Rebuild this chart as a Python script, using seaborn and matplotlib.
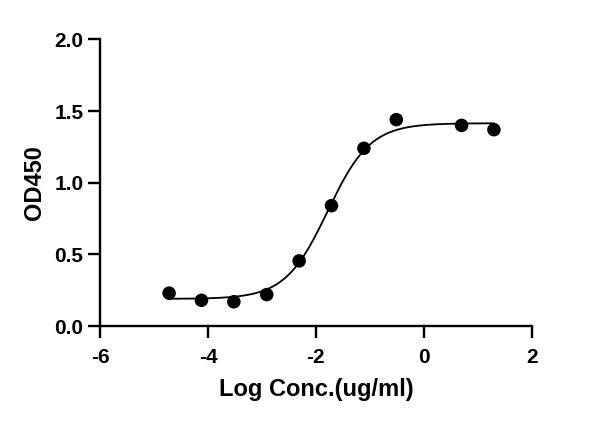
import numpy as np
import pandas as pd
import matplotlib
matplotlib.use("Agg")
import matplotlib.pyplot as plt
import seaborn as sns

# measured points
log_conc = [-4.72, -4.12, -3.52, -2.91, -2.31, -1.71, -1.11, -0.51, 0.70, 1.30]
od450 = [0.23, 0.18, 0.17, 0.22, 0.455, 0.84, 1.24, 1.44, 1.40, 1.37]

# 4PL fit parameters
bottom = 0.19
top = 1.415
log_ec50 = -1.78
hill = 1.1

sns.set_style("ticks")
plt.rcParams["font.family"] = ["Liberation Sans", "DejaVu Sans"]
plt.rcParams["font.weight"] = "bold"
plt.rcParams["axes.unicode_minus"] = False
for k in ["text.color", "axes.labelcolor", "xtick.color", "ytick.color", "axes.edgecolor"]:
    plt.rcParams[k] = "black"

df = pd.DataFrame({"x": log_conc, "y": od450})
xs = np.linspace(min(log_conc), max(log_conc), 300)
fit = pd.DataFrame({"x": xs, "y": bottom + (top - bottom) / (1 + 10 ** ((log_ec50 - xs) * hill))})

fig = plt.figure(figsize=(6, 4.23), dpi=100)
ax = fig.add_axes([0.1667, 0.229, 0.7195, 0.678])

sns.lineplot(data=fit, x="x", y="y", color="black", linewidth=1.3, ax=ax)
sns.scatterplot(data=df, x="x", y="y", color="black", s=95, edgecolor="none", ax=ax, zorder=3)

ax.set_xlim(-6, 2)
ax.set_ylim(0, 2.0)
ax.set_xticks([-6, -4, -2, 0, 2])
ax.set_yticks([0, 0.5, 1.0, 1.5, 2.0])
ax.set_yticklabels(["0.0", "0.5", "1.0", "1.5", "2.0"])
ax.set_xlabel("Log Conc.(ug/ml)", fontsize=17, fontweight="bold", labelpad=8)
ax.set_ylabel("OD450", fontsize=17, fontweight="bold", labelpad=6)
ax.tick_params(axis="x", pad=7)
ax.tick_params(axis="both", length=8.5, width=1.7, labelsize=15)
for t in ax.get_xticklabels() + ax.get_yticklabels():
    t.set_fontweight("bold")
for s in ["left", "bottom"]:
    ax.spines[s].set_linewidth(1.7)
sns.despine(ax=ax)

fig.savefig("out.png", dpi=100)
